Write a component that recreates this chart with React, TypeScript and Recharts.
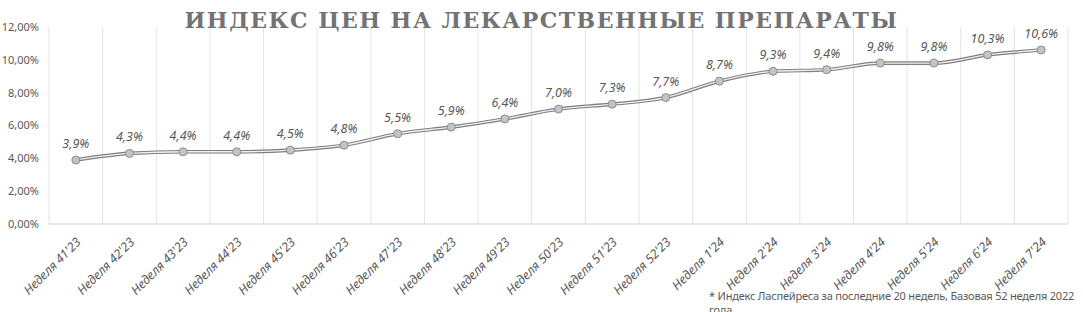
import React from "react"
import {
  LineChart, Line, XAxis, YAxis, CartesianGrid, LabelList,
} from "recharts"

const weeks = [
  "Неделя 41'23", "Неделя 42'23", "Неделя 43'23", "Неделя 44'23", "Неделя 45'23",
  "Неделя 46'23", "Неделя 47'23", "Неделя 48'23", "Неделя 49'23", "Неделя 50'23",
  "Неделя 51'23", "Неделя 52'23", "Неделя 1'24", "Неделя 2'24", "Неделя 3'24",
  "Неделя 4'24", "Неделя 5'24", "Неделя 6'24", "Неделя 7'24",
]
const priceIndex = [3.9, 4.3, 4.4, 4.4, 4.5, 4.8, 5.5, 5.9, 6.4, 7.0, 7.3, 7.7, 8.7, 9.3, 9.4, 9.8, 9.8, 10.3, 10.6]
const yTicks = [0, 2, 4, 6, 8, 10, 12]

const data = weeks.map((week, i) => ({ week, value: priceIndex[i] }))

const FONT = "'Noto Sans', 'Open Sans', sans-serif"
const TEXT = "#595959"

const WeekTick = ({ x, y, payload }: any) => (
  <g transform={`translate(${x + 3},${y + 8})`}>
    <text x={0} y={0} dy={4} textAnchor="end" transform="rotate(-45)"
      fill={TEXT} fontSize={12.5} fontStyle="italic" fontFamily={FONT}>
      {payload.value}
    </text>
  </g>
)

const bandLines = ({ offset }: any) =>
  Array.from({ length: weeks.length + 1 }, (_, i) => offset.left + (i * offset.width) / weeks.length)

const App = () => (
  <div style={{ position: "absolute", left: 0, top: 0, width: 1083, height: 312, background: "#fff", overflow: "hidden" }}>
    <LineChart width={1083} height={312} data={data} margin={{ top: 27, right: 15, bottom: 0, left: 0 }}>
      <CartesianGrid horizontal={false} stroke="#e3e3e3" verticalCoordinatesGenerator={bandLines} />
      <XAxis dataKey="week" scale="band" interval={0} height={88} tickLine={false}
        axisLine={{ stroke: "#d0d0d0" }} tick={<WeekTick />} />
      <YAxis width={49} domain={[0, 12]} ticks={yTicks} axisLine={false} tickLine={false}
        tick={{ fill: TEXT, fontSize: 11, fontFamily: FONT }} tickMargin={4}
        tickFormatter={(v: number) => v.toFixed(2).replace(".", ",") + "%"} />
      <Line dataKey="value" type="monotone" stroke="#7f7f7f" strokeWidth={3.6}
        dot={{ r: 4, fill: "#c4c4c4", stroke: "#8c8c8c", strokeWidth: 1 }}
        isAnimationActive={false}>
        <LabelList dataKey="value" position="top" offset={12} fill={TEXT} fontSize={12.5}
          fontStyle="italic" fontFamily={FONT}
          formatter={(v: any) => Number(v).toFixed(1).replace(".", ",") + "%"} />
      </Line>
      <Line dataKey="value" type="monotone" stroke="#f0f0f0" strokeWidth={1.3}
        dot={false} activeDot={false} isAnimationActive={false} />
    </LineChart>
    <div style={{
      position: "absolute", left: 0, top: 7, width: 1083, textAlign: "center",
      fontFamily: "'DejaVu Serif', serif", fontWeight: "bold", fontSize: 22,
      letterSpacing: 1.5, color: "#737373", lineHeight: "26px",
    }}>
      ИНДЕКС ЦЕН НА ЛЕКАРСТВЕННЫЕ ПРЕПАРАТЫ
    </div>
    <div style={{
      position: "absolute", left: 709, top: 289, width: 372, fontFamily: FONT,
      fontSize: 11, color: TEXT, lineHeight: "14px", letterSpacing: -0.2,
    }}>
      * Индекс Ласпейреса за последние 20 недель, Базовая 52 неделя 2022 года
    </div>
  </div>
)

export default App
